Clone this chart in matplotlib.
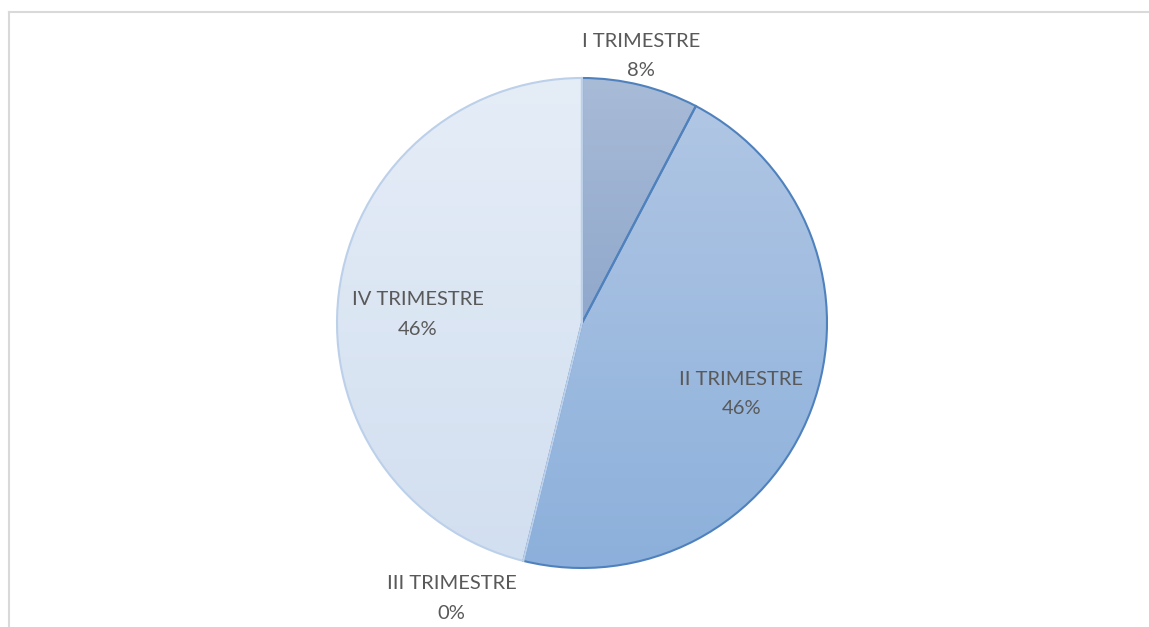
import numpy as np
import matplotlib
matplotlib.use("Agg")
import matplotlib.pyplot as plt
from matplotlib.colors import LinearSegmentedColormap

categories = ["I TRIMESTRE", "II TRIMESTRE", "III TRIMESTRE", "IV TRIMESTRE"]
values = [1, 6, 0, 6]
pct_labels = ["8%", "46%", "0%", "46%"]

top_colors = ["#a8bbd7", "#b0c6e4", "#c9d8ee", "#e5edf7"]
bot_colors = ["#90a8cc", "#8cb0db", "#a9c2e4", "#d2dff0"]
edge_colors = ["#4f81bd", "#4f81bd", "#b4c8e4", "#bcd0ea"]
label_pos = [(0.24, 1.09), (0.65, -0.29), (-0.532, -1.124), (-0.67, 0.034)]

W, H = 1149, 627
fig = plt.figure(figsize=(W / 100, H / 100), dpi=100)
fig.patch.set_facecolor("white")

# chart-area frame (top and left lines)
fig.add_artist(plt.Line2D([9 / W, 9 / W], [0, 1 - 12 / H], transform=fig.transFigure,
                          color="#d9d9d9", lw=1.5))
fig.add_artist(plt.Line2D([9 / W, 1], [1 - 12 / H, 1 - 12 / H], transform=fig.transFigure,
                          color="#d9d9d9", lw=1.5))

cx, cy, R = 582, 323, 245
ax = fig.add_axes([(cx - R) / W, (H - cy - R) / H, 2 * R / W, 2 * R / H])
ax.set_xlim(-1, 1)
ax.set_ylim(-1, 1)
ax.set_aspect("equal")
ax.axis("off")

wedges, _ = ax.pie(values, startangle=90, counterclock=False, radius=1,
                   wedgeprops=dict(linewidth=0))

for i, w in enumerate(wedges):
    if values[i] == 0:
        w.set_visible(False)
        continue
    w.set_facecolor("none")
    cmap = LinearSegmentedColormap.from_list("g%d" % i, [bot_colors[i], top_colors[i]])
    grad = np.linspace(0, 1, 256).reshape(-1, 1)
    bb = w.get_path().get_extents(w.get_patch_transform())
    im = ax.imshow(grad, cmap=cmap, origin="lower", aspect="auto",
                   extent=[bb.x0, bb.x1, bb.y0, bb.y1], zorder=1)
    im.set_clip_path(w)
    w.set_edgecolor(edge_colors[i])
    w.set_linewidth(1.5)
    w.set_zorder(2 + i)

ax.set_xlim(-1, 1)
ax.set_ylim(-1, 1)

for cat, pct, (x, y) in zip(categories, pct_labels, label_pos):
    ax.text(x, y, cat + "\n" + pct, ha="center", va="center", fontsize=14.5,
            family="Lato", color="#595959", linespacing=1.9, clip_on=False, zorder=10)

fig.savefig("out.png", dpi=100, facecolor="white")
